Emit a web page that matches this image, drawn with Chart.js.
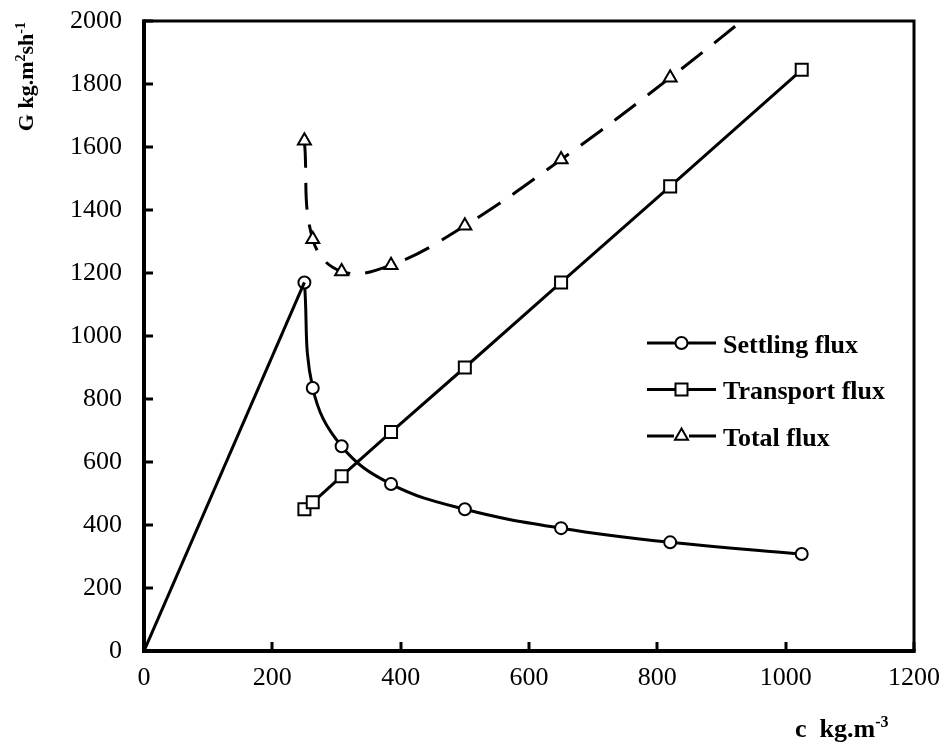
<!DOCTYPE html>
<html lang="en">
<head>
  <meta charset="UTF-8" />
  <title>Flux curves</title>
  <script src="https://cdn.jsdelivr.net/npm/chart.js"></script>
  <style>
    body {
      margin: 0;
      background: #fff;
    }
    #fluxChart {
      display: block;
    }
  </style>
</head>
<body>
  <canvas id="fluxChart" width="945" height="749"></canvas>

  <script>
    // concentration c (kg/m3) and flux G (kg/m2h)
    const concentration = [250, 263, 308, 385, 500, 650, 820, 1025];
    const settlingFlux = [1170, 835, 650, 530, 450, 390, 345, 308];
    const transportFlux = [450, 472, 555, 695, 900, 1170, 1475, 1845];
    const totalFlux = [1620, 1307, 1205, 1225, 1350, 1560, 1820, 2153];

    // straight rise of the settling flux from the origin
    const riseC = [0, 250];
    const riseG = [0, 1170];

    const xTicks = [0, 200, 400, 600, 800, 1000, 1200];
    const yTicks = [0, 200, 400, 600, 800, 1000, 1200, 1400, 1600, 1800, 2000];

    const seriesNames = ["Settling flux", "Transport flux", "Total flux"];

    const SERIF = "'Liberation Serif', 'Times New Roman', serif";
    const DASH = [27, 15];

    function pts(xs, ys) {
      return xs.map((x, i) => ({ x: x, y: ys[i] }));
    }

    function marker(ctx, style, x, y) {
      ctx.beginPath();
      if (style === "circle") {
        ctx.arc(x, y, 6, 0, Math.PI * 2);
      } else if (style === "rect") {
        ctx.rect(x - 6, y - 6, 12, 12);
      } else {
        const r = 7.5;
        ctx.moveTo(x, y - r);
        ctx.lineTo(x + r * Math.sin(Math.PI * 2 / 3), y - r * Math.cos(Math.PI * 2 / 3));
        ctx.lineTo(x + r * Math.sin(Math.PI * 4 / 3), y - r * Math.cos(Math.PI * 4 / 3));
        ctx.closePath();
      }
      ctx.fillStyle = "#fff";
      ctx.fill();
      ctx.lineWidth = 2;
      ctx.setLineDash([]);
      ctx.stroke();
    }

    // text with superscript pieces, e.g. [["kg.m"], ["2", true]]
    function richWidth(ctx, parts, size) {
      let w = 0;
      parts.forEach(p => {
        ctx.font = "bold " + (p[1] ? Math.round(size * 0.62) : size) + "px " + SERIF;
        w += ctx.measureText(p[0]).width;
      });
      return w;
    }

    function drawRich(ctx, parts, x, y, size) {
      parts.forEach(p => {
        ctx.font = "bold " + (p[1] ? Math.round(size * 0.62) : size) + "px " + SERIF;
        ctx.fillText(p[0], x, p[1] ? y - size * 0.38 : y);
        x += ctx.measureText(p[0]).width;
      });
    }

    function fixedBox(w, h) {
      return s => {
        if (w) s.width = w;
        if (h) s.height = h;
        s.paddingTop = 0;
        s.paddingBottom = 0;
        s.paddingLeft = 0;
        s.paddingRight = 0;
      };
    }

    const framePlugin = {
      id: "frameAndLegend",
      afterDraw(chart) {
        const ctx = chart.ctx;
        const a = chart.chartArea;
        const xs = chart.scales.x;
        const ys = chart.scales.y;

        ctx.save();
        ctx.strokeStyle = "#000";
        ctx.fillStyle = "#000";
        ctx.lineCap = "butt";

        // inward tick marks
        ctx.lineWidth = 3;
        ctx.beginPath();
        yTicks.forEach(v => {
          const py = Math.round(ys.getPixelForValue(v));
          ctx.moveTo(a.left, py);
          ctx.lineTo(a.left + 9, py);
        });
        xTicks.forEach(v => {
          const px = Math.round(xs.getPixelForValue(v));
          ctx.moveTo(px, a.bottom);
          ctx.lineTo(px, a.bottom - 9);
        });
        ctx.stroke();

        // plot frame
        ctx.lineWidth = 3;
        ctx.strokeRect(a.left, a.top, a.right - a.left, a.bottom - a.top);
        ctx.lineWidth = 4;
        ctx.beginPath();
        ctx.moveTo(a.left, a.top - 1.5);
        ctx.lineTo(a.left, a.bottom);
        ctx.lineTo(a.right + 1.5, a.bottom);
        ctx.stroke();

        // legend: line sample with marker
        const styles = ["circle", "rect", "triangle"];
        const lx = a.left + 503;
        let ly = 343;
        seriesNames.forEach((name, i) => {
          ctx.lineWidth = 3;
          ctx.setLineDash(i === 2 ? DASH : []);
          ctx.beginPath();
          ctx.moveTo(lx, ly);
          ctx.lineTo(lx + 69, ly);
          ctx.stroke();
          marker(ctx, styles[i], lx + 34.5, ly);
          ctx.fillStyle = "#000";
          ctx.font = "bold 26px " + SERIF;
          ctx.textAlign = "left";
          ctx.textBaseline = "alphabetic";
          ctx.fillText(name, lx + 76, ly + 9.5);
          ly += 46.5;
        });

        // axis titles
        ctx.setLineDash([]);
        ctx.textAlign = "left";
        ctx.textBaseline = "alphabetic";
        drawRich(ctx, [["c  kg.m"], ["-3", true]], 795, 737, 26);

        const yTitle = [["G kg.m"], ["2", true], ["sh"], ["-1", true]];
        const w = richWidth(ctx, yTitle, 22);
        ctx.translate(33, 22);
        ctx.rotate(-Math.PI / 2);
        drawRich(ctx, yTitle, -w, 0, 22);

        ctx.restore();
      }
    };

    const ctx = document.getElementById("fluxChart").getContext("2d");
    new Chart(ctx, {
      type: "line",
      data: {
        datasets: [
          {
            label: "rise",
            data: pts(riseC, riseG),
            borderColor: "#000",
            borderWidth: 3,
            pointRadius: 0,
            tension: 0
          },
          {
            label: seriesNames[0],
            data: pts(concentration, settlingFlux),
            borderColor: "#000",
            borderWidth: 3,
            tension: 0.4,
            pointStyle: "circle",
            pointRadius: 6,
            pointBorderWidth: 2,
            pointBackgroundColor: "#fff",
            pointBorderColor: "#000"
          },
          {
            label: seriesNames[1],
            data: pts(concentration, transportFlux),
            borderColor: "#000",
            borderWidth: 3,
            tension: 0,
            pointStyle: "rect",
            pointRadius: 8.5,
            pointBorderWidth: 2,
            pointBackgroundColor: "#fff",
            pointBorderColor: "#000"
          },
          {
            label: seriesNames[2],
            data: pts(concentration, totalFlux),
            borderColor: "#000",
            borderWidth: 3,
            borderDash: DASH,
            tension: 0.4,
            pointStyle: "triangle",
            pointRadius: 7.5,
            pointBorderWidth: 2,
            pointBackgroundColor: "#fff",
            pointBorderColor: "#000"
          }
        ]
      },
      options: {
        responsive: false,
        animation: false,
        layout: {
          padding: { top: 21, right: 31, left: 0, bottom: 0 }
        },
        plugins: {
          legend: { display: false },
          tooltip: { enabled: false }
        },
        scales: {
          x: {
            type: "linear",
            min: 0,
            max: 1200,
            afterBuildTicks: s => { s.ticks = xTicks.map(v => ({ value: v })); },
            afterFit: fixedBox(0, 98),
            grid: { display: false, drawTicks: false },
            border: { display: false },
            ticks: {
              color: "#000",
              padding: 12,
              maxRotation: 0,
              callback: v => String(v),
              font: { family: SERIF, size: 26 }
            }
          },
          y: {
            type: "linear",
            min: 0,
            max: 2000,
            afterBuildTicks: s => { s.ticks = yTicks.map(v => ({ value: v })); },
            afterFit: fixedBox(144, 0),
            grid: { display: false, drawTicks: false },
            border: { display: false },
            ticks: {
              color: "#000",
              padding: 22,
              callback: v => String(v),
              font: { family: SERIF, size: 26 }
            }
          }
        }
      },
      plugins: [framePlugin]
    });
  </script>
</body>
</html>
